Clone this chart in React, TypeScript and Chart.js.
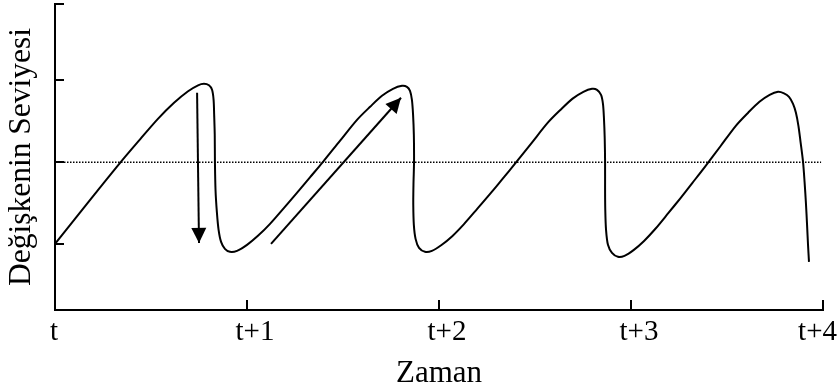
import React, { useEffect, useRef } from 'react';
import { Chart, registerables } from 'chart.js';

Chart.register(...registerables);

// Time axis: one tick per period
const xTickValues = [0, 1, 2, 3, 4];
const xTickLabels = ['t', 't+1', 't+2', 't+3', 't+4'];

// Level axis: tick marks only, no labels
const yTickValues = [-1, 0, 1];
const yMin = -1.8;
const yMax = 1.93;

// Long-run average level (dotted)
const levelX = [0, 3.99];
const levelY = [0, 0];

// Fluctuating variable over time
const curveX = [
  0, 0.104, 0.208, 0.339, 0.443, 0.536, 0.62, 0.693, 0.745, 0.776, 0.802, 0.818,
  0.826, 0.829, 0.832, 0.833, 0.836, 0.843, 0.852, 0.865, 0.885, 0.911,
  0.948, 1.0, 1.057, 1.12, 1.193, 1.26, 1.328, 1.396, 1.484, 1.573, 1.641, 1.703,
  1.76, 1.807,
  1.833, 1.849, 1.859, 1.865, 1.869, 1.87, 1.867, 1.866, 1.869, 1.878, 1.896, 1.927,
  1.963, 2.013, 2.069, 2.129, 2.2, 2.266, 2.332, 2.397, 2.483, 2.569, 2.635, 2.696,
  2.752, 2.797,
  2.823, 2.844, 2.854, 2.859, 2.863, 2.865, 2.865, 2.866, 2.87, 2.88, 2.901, 2.932,
  2.966, 3.015, 3.068, 3.126, 3.194, 3.257, 3.32, 3.383, 3.465, 3.547, 3.61, 3.669,
  3.722, 3.766,
  3.797, 3.823, 3.844, 3.859, 3.872, 3.883, 3.896, 3.904, 3.911, 3.917, 3.922, 3.927,
];
const curveY = [
  -0.994, -0.689, -0.384, -0.006, 0.28, 0.53, 0.726, 0.866, 0.939, 0.957, 0.939, 0.884,
  0.762, 0.579, 0.335, 0.006, -0.335, -0.604, -0.823, -0.97, -1.055, -1.091,
  -1.079, -1.006, -0.896, -0.75, -0.555, -0.372, -0.183, 0.006, 0.262, 0.518, 0.677, 0.811,
  0.896, 0.933,
  0.921, 0.872, 0.762, 0.579, 0.335, 0.006, -0.274, -0.518, -0.762, -0.933, -1.043, -1.091,
  -1.079, -1.007, -0.9, -0.756, -0.565, -0.385, -0.199, -0.013, 0.238, 0.489, 0.645, 0.777,
  0.86, 0.896,
  0.884, 0.823, 0.713, 0.543, 0.299, 0.006, -0.311, -0.579, -0.823, -1.006, -1.104, -1.152,
  -1.14, -1.067, -0.959, -0.813, -0.62, -0.438, -0.25, -0.061, 0.193, 0.448, 0.605, 0.738,
  0.823, 0.86,
  0.841, 0.799, 0.713, 0.604, 0.445, 0.25, 0.006, -0.238, -0.494, -0.762, -1.006, -1.213,
];

// Arrows: fall after the peak, rise after the trough
const fallX = [0.74, 0.75];
const fallY = [0.848, -0.982];
const riseX = [1.125, 1.802];
const riseY = [-0.994, 0.787];

const SERIF = '"Liberation Serif", "Times New Roman", serif';

const toPoints = (xs: number[], ys: number[]) => xs.map((x, i) => ({ x, y: ys[i] }));

// Filled triangular heads at the end of datasets flagged as arrows
const arrowHeads = {
  id: 'arrowHeads',
  afterDatasetsDraw(chart: any) {
    const ctx = chart.ctx;
    chart.data.datasets.forEach((ds: any, i: number) => {
      if (!ds.arrow) return;
      const pts = chart.getDatasetMeta(i).data;
      const a = pts[pts.length - 2];
      const b = pts[pts.length - 1];
      const ang = Math.atan2(b.y - a.y, b.x - a.x);
      const len = 15;
      const half = 7.5;
      const c = Math.cos(ang);
      const s = Math.sin(ang);
      ctx.save();
      ctx.fillStyle = '#000';
      ctx.beginPath();
      ctx.moveTo(b.x, b.y);
      ctx.lineTo(b.x - len * c + half * s, b.y - len * s - half * c);
      ctx.lineTo(b.x - len * c - half * s, b.y - len * s + half * c);
      ctx.closePath();
      ctx.fill();
      ctx.restore();
    });
  },
};

// Time tick labels under the axis
const timeLabels = {
  id: 'timeLabels',
  afterDraw(chart: any) {
    const sx = chart.scales.x;
    const ctx = chart.ctx;
    ctx.save();
    ctx.font = `29px ${SERIF}`;
    ctx.fillStyle = '#000';
    ctx.textBaseline = 'alphabetic';
    const y = sx.top + 30;
    const last = xTickValues.length - 1;
    xTickValues.forEach((v, i) => {
      const px = sx.getPixelForValue(v);
      const label = xTickLabels[i];
      if (i === 0) {
        ctx.textAlign = 'center';
        ctx.fillText(label, px - 1, y);
      } else if (i === last) {
        ctx.textAlign = 'right';
        ctx.fillText(label, chart.width - 2, y);
      } else {
        ctx.textAlign = 'center';
        ctx.fillText(label, px + 8, y);
      }
    });
    ctx.restore();
  },
};

export default function App() {
  const canvasRef = useRef<HTMLCanvasElement | null>(null);

  useEffect(() => {
    if (!canvasRef.current) return;
    const chart = new Chart(canvasRef.current, {
      type: 'scatter',
      data: {
        datasets: [
          {
            data: toPoints(levelX, levelY),
            showLine: true,
            borderColor: '#000',
            borderWidth: 1.5,
            borderDash: [1.5, 1.5],
            pointRadius: 0,
            tension: 0,
          },
          {
            data: toPoints(curveX, curveY),
            showLine: true,
            borderColor: '#000',
            borderWidth: 2,
            pointRadius: 0,
            tension: 0.3,
          },
          {
            data: toPoints(fallX, fallY),
            showLine: true,
            borderColor: '#000',
            borderWidth: 2,
            pointRadius: 0,
            arrow: true,
          } as any,
          {
            data: toPoints(riseX, riseY),
            showLine: true,
            borderColor: '#000',
            borderWidth: 2,
            pointRadius: 0,
            arrow: true,
          } as any,
        ],
      },
      options: {
        animation: false,
        responsive: true,
        maintainAspectRatio: false,
        layout: { padding: { left: 0, top: 4, right: 16, bottom: 0 } },
        plugins: {
          legend: { display: false },
          tooltip: { enabled: false },
        },
        scales: {
          x: {
            type: 'linear',
            position: 'bottom',
            min: 0,
            max: 4,
            afterBuildTicks: (s: any) => {
              s.ticks = xTickValues.map((value) => ({ value }));
            },
            afterFit: (s: any) => {
              s.height = 82;
            },
            ticks: { display: false },
            grid: {
              drawOnChartArea: false,
              drawTicks: true,
              tickLength: -10,
              color: '#000',
              lineWidth: 2,
            },
            border: { display: true, color: '#000', width: 2 },
            title: {
              display: true,
              text: 'Zaman',
              color: '#000',
              font: { family: SERIF, size: 31 },
              padding: { top: 0, bottom: 0 },
            },
          },
          y: {
            type: 'linear',
            position: 'left',
            min: yMin,
            max: yMax,
            afterBuildTicks: (s: any) => {
              s.ticks = [...yTickValues, yMax].map((value) => ({ value }));
            },
            afterFit: (s: any) => {
              s.width = 55;
            },
            ticks: { display: false },
            grid: {
              drawOnChartArea: false,
              drawTicks: true,
              tickLength: -9,
              color: '#000',
              lineWidth: 2,
            },
            border: { display: true, color: '#000', width: 2 },
            title: {
              display: true,
              text: 'Değişkenin Seviyesi',
              color: '#000',
              font: { family: SERIF, size: 31.5 },
              padding: { top: 3, bottom: 0 },
            },
          },
        },
      } as any,
      plugins: [arrowHeads, timeLabels],
    });
    return () => chart.destroy();
  }, []);

  return (
    <div style={{ position: 'absolute', left: 0, top: 0, width: 839, height: 392, background: '#fff' }}>
      <canvas ref={canvasRef} />
    </div>
  );
}
